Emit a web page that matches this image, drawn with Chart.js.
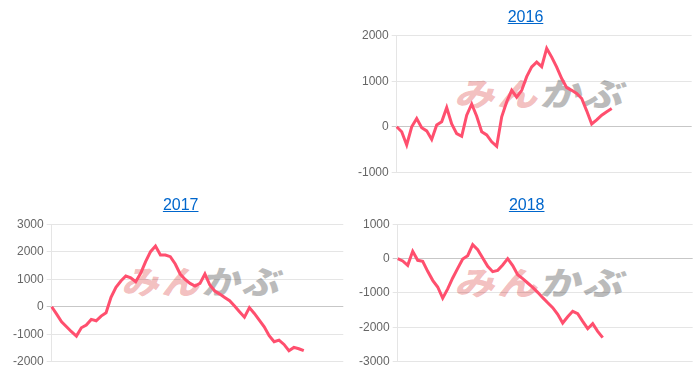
<!DOCTYPE html>
<html><head><meta charset="utf-8">
<script src="https://cdn.jsdelivr.net/npm/chart.js@4"></script>
<style>
html,body{margin:0;padding:0;background:#fff;width:700px;height:376px;overflow:hidden;}
.cell{position:absolute;width:350px;height:188px;}
.cell canvas{position:absolute;left:0;top:0;}
.ttl{position:absolute;top:8px;font:16px "Liberation Sans",Arial,sans-serif;line-height:18px;color:#0066cc;text-decoration:underline;transform:translateX(-50%);white-space:nowrap;}
.wm{position:absolute;font-family:"Noto Sans CJK JP",sans-serif;font-weight:900;font-size:36px;line-height:36px;white-space:nowrap;transform-origin:0 0;letter-spacing:2px;}
.wm .a{color:rgba(225,90,90,0.4);}
.wm .b{color:rgba(120,120,120,0.5);}
</style>
</head><body>
<div class="cell" id="c2016" style="left:350px;top:0px;">
  <div class="wm" style="left:112px;top:75px;transform:skewX(-14deg) scale(1.12,0.9);"><span class="a">みん</span><span class="b">かぶ</span></div>
  <canvas id="ch2016" width="350" height="188"></canvas>
  <a class="ttl" style="left:175.5px;">2016</a>
</div>
<div class="cell" id="c2017" style="left:0px;top:188px;">
  <div class="wm" style="left:129px;top:75px;transform:skewX(-14deg) scale(1.05,0.9);"><span class="a">みん</span><span class="b">かぶ</span></div>
  <canvas id="ch2017" width="350" height="188"></canvas>
  <a class="ttl" style="left:180.7px;">2017</a>
</div>
<div class="cell" id="c2018" style="left:350px;top:188px;">
  <div class="wm" style="left:112px;top:76px;transform:skewX(-14deg) scale(1.12,0.9);"><span class="a">みん</span><span class="b">かぶ</span></div>
  <canvas id="ch2018" width="350" height="188"></canvas>
  <a class="ttl" style="left:176.7px;">2018</a>
</div>
<script>
// x slots (trading-day positions across the year; no visible x labels)
const days = [1,2,3,4,5,6,7,8,9,10,11,12,13,14,15,16,17,18,19,20,
  21,22,23,24,25,26,27,28,29,30,31,32,33,34,35,36,37,38,39,40,
  41,42,43,44,45,46,47,48,49,50,51,52,53,54,55,56,57,58,59,60];

const y2016 = [0, -110, -400, 0, 180, -20, -90, -280, 40, 110, 420, 60, -150, -210, 255, 500, 230, -110, -180, -330,
  -430, 220, 550, 800, 650, 800, 1100, 1314, 1420, 1320, 1720, 1530, 1310, 1060, 860, 800, 730, 620, 350, 60,
  150, 255, 330, 400];
const y2017 = [0, -267, -546, -728, -910, -1068, -765, -668, -461, -510, -340, -218, 340, 704, 935, 1117, 1056, 910, 1214, 1639,
  2003, 2210, 1882, 1882, 1821, 1554, 1190, 995, 850, 753, 850, 1190, 789, 570, 460, 340, 218, 24, -182, -380,
  -30, -243, -485, -728, -1056, -1275, -1214, -1372, -1602, -1480, -1530, -1600];
const y2018 = [0, -68, -194, 214, -49, -78, -369, -631, -825, -1150, -880, -563, -282, -10, 87, 408, 262, 19, -223, -379,
  -340, -184, 0, -200, -466, -583, -709, -835, -981, -1136, -1282, -1427, -1622, -1874, -1690, -1534, -1602, -1826, -2039, -1893,
  -2117, -2300];

const ticks2016 = [-1000, 2000];
const ticks2017 = [-2000, 3000];
const ticks2018 = [-3000, 1000];

function makeChart(id, values, range, pad, axisW) {
  new Chart(document.getElementById(id), {
    type: 'line',
    data: {
      labels: days,
      datasets: [{
        data: values,
        borderColor: '#ff4f6e',
        backgroundColor: '#ff4f6e',
        borderWidth: 3,
        pointRadius: 0,
        tension: 0,
        fill: false
      }]
    },
    options: {
      responsive: false,
      animation: false,
      layout: { padding: pad },
      plugins: { legend: { display: false }, tooltip: { enabled: false }, title: { display: false } },
      scales: {
        x: { display: false },
        y: {
          min: range[0], max: range[1],
          afterFit: function (s) { s.width = axisW; },
          ticks: { stepSize: 1000, color: '#666', padding: 3,
            callback: function (v) { return String(v); },
            font: { family: '"Liberation Sans", Arial, sans-serif', size: 12 } },
          grid: {
            tickLength: 5,
            color: function (ctx) { return (ctx.tick && ctx.tick.value === 0) ? 'rgba(0,0,0,0.22)' : 'rgba(0,0,0,0.1)'; },
            lineWidth: 1
          },
          border: { color: 'rgba(0,0,0,0.1)' }
        }
      }
    }
  });
}

makeChart('ch2016', y2016, ticks2016, { top: 35.7, bottom: 15.7, right: 8.3, left: 0 }, 46.7);
makeChart('ch2017', y2017, ticks2017, { top: 36.3, bottom: 14.3, right: 6.7, left: 0 }, 51.7);
makeChart('ch2018', y2018, ticks2018, { top: 36.3, bottom: 14.3, right: 7.3, left: 0 }, 47.7);
</script>
</body></html>
